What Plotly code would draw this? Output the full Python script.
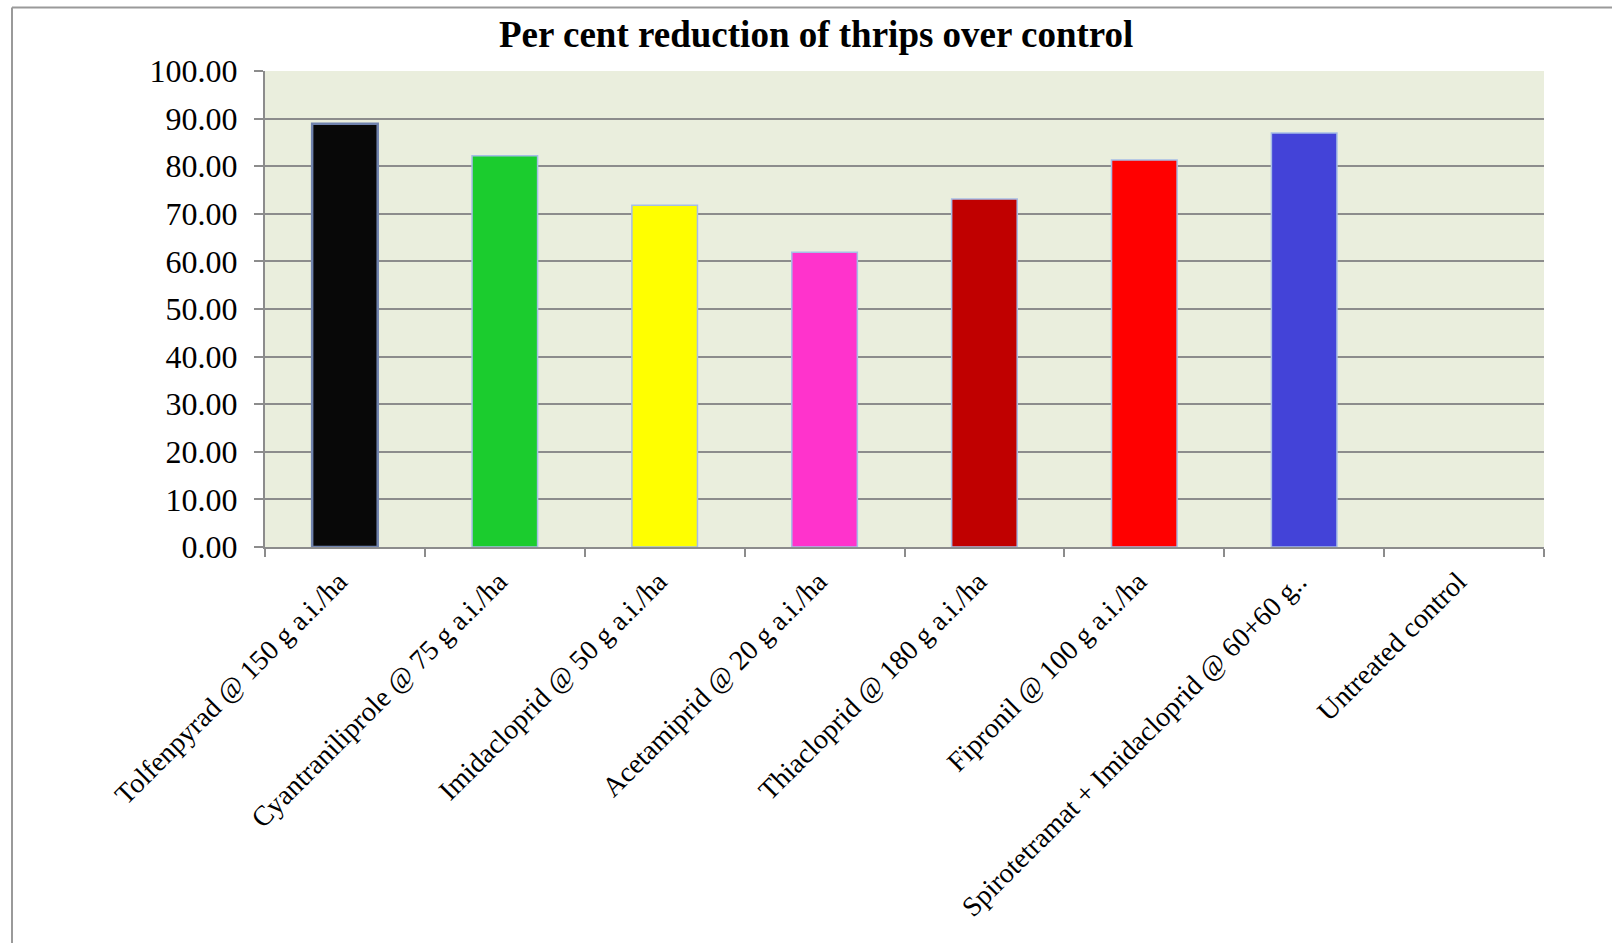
import plotly.graph_objects as go

W, H = 1612, 943

treatments = [
    "Tolfenpyrad @ 150 g a.i./ha",
    "Cyantraniliprole @ 75 g a.i./ha",
    "Imidacloprid @ 50 g a.i./ha",
    "Acetamiprid @ 20 g a.i./ha",
    "Thiacloprid @ 180 g a.i./ha",
    "Fipronil @ 100 g a.i./ha",
    "Spirotetramat + Imidacloprid @ 60+60 g..",
    "Untreated control",
]
reduction = [88.9, 82.2, 71.8, 61.9, 73.1, 81.3, 87.0, 0.0]
bar_colors = ["#080808", "#1bcc2e", "#ffff00", "#ff33cc", "#c00000", "#ff0000", "#4343d8", "#ffffff"]
outline_colors = ["#6f82ad", "#a6bde6", "#a6bde6", "#a6bde6", "#a6bde6", "#a6bde6", "#a6bde6", "#ffffff"]
outline_widths = [2.5, 1.5, 1.5, 1.5, 1.5, 1.5, 1.5, 0]
y_ticks = [0, 10, 20, 30, 40, 50, 60, 70, 80, 90, 100]

SERIF = "Liberation Serif, Times New Roman, serif"
GRID = "#8c8c8c"

# plot-area box in page pixels
px_left, px_right, px_top, px_bottom = 265, 1544, 71, 547

fig = go.Figure(
    go.Bar(
        x=treatments,
        y=reduction,
        width=0.41,
        marker=dict(
            color=bar_colors,
            line=dict(color=outline_colors, width=outline_widths),
        ),
        hoverinfo="x+y",
    )
)

fig.update_layout(
    template="none",
    width=W,
    height=H,
    margin=dict(l=0, r=0, t=0, b=0, autoexpand=False),
    paper_bgcolor="white",
    plot_bgcolor="#eaeedd",
    showlegend=False,
    font=dict(family=SERIF, size=30, color="black"),
    xaxis=dict(
        automargin=False,
        domain=[px_left / W, px_right / W],
        type="category",
        tickangle=-45,
        tickson="boundaries",
        ticks="outside",
        ticklen=8,
        tickwidth=2,
        tickcolor=GRID,
        ticklabelstandoff=5,
        ticklabelshift=-6,
        showline=True,
        linecolor=GRID,
        linewidth=2,
        showgrid=False,
        tickfont=dict(family=SERIF, size=28, color="black"),
    ),
    yaxis=dict(
        automargin=False,
        domain=[1 - px_bottom / H, 1 - px_top / H],
        range=[0, 100],
        tickvals=y_ticks,
        tickformat=".2f",
        ticks="outside",
        ticklen=9,
        tickwidth=2,
        tickcolor=GRID,
        ticklabelstandoff=10,
        showline=True,
        linecolor=GRID,
        linewidth=2,
        showgrid=True,
        gridcolor=GRID,
        gridwidth=2,
        zeroline=False,
        tickfont=dict(family=SERIF, size=32, color="black"),
    ),
    annotations=[
        dict(
            text="<b>Per cent reduction of thrips over control</b>",
            x=816 / W,
            y=1 - 35 / H,
            xref="paper",
            yref="paper",
            xanchor="center",
            yanchor="middle",
            showarrow=False,
            font=dict(family=SERIF, size=37, color="black"),
        )
    ],
    shapes=[
        # outer chart frame (top and left edges)
        dict(type="line", xref="paper", yref="paper",
             x0=12 / W, x1=1.0, y0=1 - 7.5 / H, y1=1 - 7.5 / H,
             line=dict(color="#9a9a9a", width=2)),
        dict(type="line", xref="paper", yref="paper",
             x0=12 / W, x1=12 / W, y0=1 - 7.5 / H, y1=0,
             line=dict(color="#9a9a9a", width=2)),
    ],
)

fig.write_html("out.html")
